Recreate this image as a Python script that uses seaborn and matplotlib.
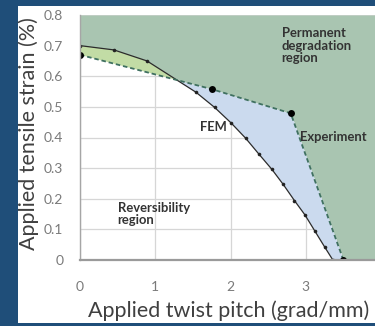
import numpy as np
import pandas as pd
import matplotlib
matplotlib.use("Agg")
import matplotlib.pyplot as plt
from matplotlib.patches import Rectangle
import seaborn as sns

# FEM prediction of the tensile strain limit versus twist pitch
fem_pitch = [0.0, 0.45, 0.89, 1.54, 1.79, 2.01, 2.20, 2.38, 2.55, 2.70, 2.85, 2.99, 3.12, 3.25, 3.36]
fem_strain = [0.70, 0.686, 0.65, 0.548, 0.498, 0.447, 0.398, 0.345, 0.296, 0.247, 0.194, 0.147, 0.095, 0.043, 0.0]

# Measured limit
exp_pitch = [0.0, 1.75, 2.80, 3.50]
exp_strain = [0.67, 0.558, 0.479, 0.0]

x_ticks = [0, 1, 2, 3]
y_ticks = [0, 0.1, 0.2, 0.3, 0.4, 0.5, 0.6, 0.7, 0.8]

sns.set_theme(style="white")
plt.rcParams["font.family"] = ["Lato", "DejaVu Sans"]

fig = plt.figure(figsize=(3.75, 3.26), dpi=100)
fig.patch.set_facecolor("#1f4e79")
panel = Rectangle((18 / 375, 3 / 326), 1.0, 317 / 326,
                  transform=fig.transFigure, facecolor="white",
                  edgecolor="none", zorder=-10)
fig.patches.append(panel)

ax = fig.add_axes([80 / 375, 1 - 260 / 326, 301 / 375, 245 / 326])
ax.set_zorder(1)
ax.set_facecolor("white")

xmax = 4.0
grid = np.linspace(0, xmax, 2001)
fem_i = np.interp(grid, fem_pitch, fem_strain, right=0.0)
exp_i = np.interp(grid, exp_pitch, exp_strain, right=0.0)
upper = np.maximum(fem_i, exp_i)

ax.fill_between(grid, upper, 0.8, color="#a9c5b1", lw=0, zorder=1)
ax.fill_between(grid, exp_i, fem_i, where=fem_i >= exp_i, interpolate=True,
                color="#c2dca5", lw=0, zorder=1)
ax.fill_between(grid, fem_i, exp_i, where=exp_i >= fem_i, interpolate=True,
                color="#cbdaee", lw=0, zorder=1)

fem_df = pd.DataFrame({"pitch": fem_pitch, "strain": fem_strain})
exp_df = pd.DataFrame({"pitch": exp_pitch, "strain": exp_strain})

sns.lineplot(data=fem_df, x="pitch", y="strain", ax=ax, color="#2b2b2b",
             lw=0.9, marker="o", markersize=2.6, markeredgewidth=0,
             markerfacecolor="#222222", sort=False, zorder=4)
sns.lineplot(data=exp_df, x="pitch", y="strain", ax=ax, color="#3f7060",
             lw=1.3, dashes=False, marker="o", markersize=5, markeredgewidth=0,
             markerfacecolor="black", sort=False, zorder=5)
ax.lines[-1].set_linestyle((0, (2.5, 1.6)))

ax.set_xlim(0, xmax)
ax.set_ylim(0, 0.8)
ax.set_xticks(x_ticks)
ax.set_yticks(y_ticks)
ax.set_xticklabels([str(t) for t in x_ticks])
ax.set_yticklabels(["0" if t == 0 else f"{t:.1f}" for t in y_ticks])
ax.grid(True, color="#d6d6d6", lw=0.9)
for gl in ax.get_xgridlines() + ax.get_ygridlines():
    gl.set_zorder(2)

ax.tick_params(axis="y", labelsize=10, colors="#7a7a7a", pad=12, length=0)
ax.tick_params(axis="x", labelsize=10, colors="#7a7a7a", pad=15, length=0)
for s in ["top", "right"]:
    ax.spines[s].set_visible(False)
ax.spines["left"].set_color("#a6a6a6")
ax.spines["left"].set_linewidth(1.0)
ax.spines["bottom"].set_color("#9a9a9a")
ax.spines["bottom"].set_linewidth(1.6)
ax.spines["left"].set_zorder(6)
ax.spines["bottom"].set_zorder(6)
ax.set_xlabel("")
ax.set_ylabel("")

fig.text(229 / 375, 1 - 311 / 326, "Applied twist pitch (grad/mm)",
         ha="center", va="center", fontsize=15.5, color="#404040")
fig.text(29 / 375, 1 - 134 / 326, "Applied tensile strain (%)",
         ha="center", va="center", rotation=90, fontsize=15.5, color="#404040")

note = dict(fontsize=9.4, fontweight="bold", color="#333333", zorder=7,
            linespacing=1.05)
ax.text(2.68, 0.76, "Permanent\ndegradation\nregion", ha="left", va="top", **note)
ax.text(1.6, 0.435, "FEM", ha="left", va="center", **note)
ax.text(2.92, 0.403, "Experiment", ha="left", va="center", **note)
ax.text(0.5, 0.19, "Reversibility\nregion", ha="left", va="top", **note)

fig.savefig("out.png", dpi=100, facecolor=fig.get_facecolor())
